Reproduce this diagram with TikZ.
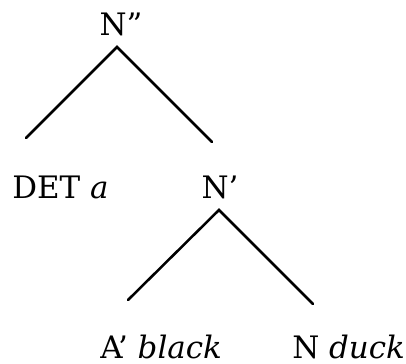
\documentclass[tikz,border=0pt]{standalone}
\usepackage{fontspec}
\setmainfont{DejaVu Serif}
\usetikzlibrary{positioning}

\begin{document}
\begin{tikzpicture}[
  cat/.style={font=\fontsize{22}{27}\selectfont, inner sep=0pt, anchor=base},
  word/.style={cat, anchor=base west},
  branch/.style={line width=1.8pt, line cap=round}
]
\useasboundingbox (0,0) rectangle (10.15,9.1);

% top level
\node[cat] (npp) at (3.025, 8.2) {N”};
\coordinate (npp_apex) at (2.925, 7.925);
\coordinate (npp_left) at (0.65, 5.65);
\coordinate (npp_right) at (5.3, 5.55);

\node[word] (det) at (0.3, 4.125) {DET \textit{a}};
\node[cat] (np) at (5.5, 4.125) {N’};

\draw[branch] (npp_left) -- (npp_apex) -- (npp_right);

% lower level
\coordinate (np_apex) at (5.475, 3.85);
\coordinate (np_left) at (3.2, 1.6);
\coordinate (np_right) at (7.825, 1.5);

\node[word] (adj) at (2.5, 0.14) {A’ \textit{black}};
\node[word] (noun) at (7.3, 0.14) {N \textit{duck}};

\draw[branch] (np_left) -- (np_apex) -- (np_right);

\end{tikzpicture}
\end{document}
